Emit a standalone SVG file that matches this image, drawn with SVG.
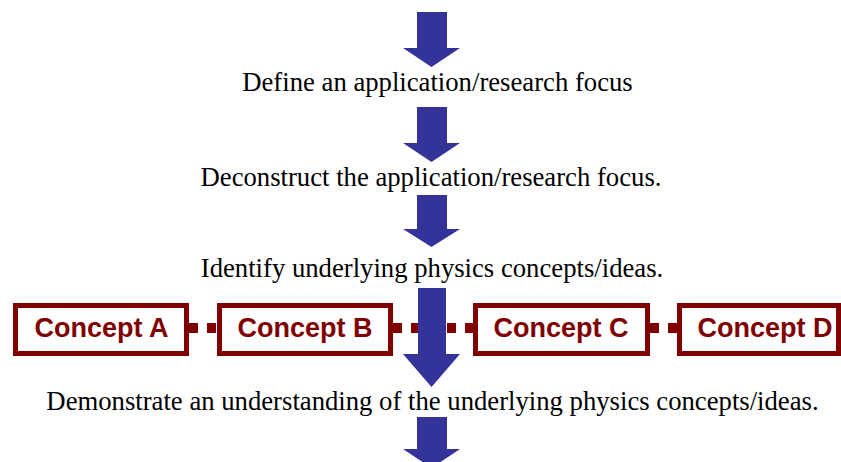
<svg xmlns="http://www.w3.org/2000/svg" width="841" height="462" viewBox="0 0 841 462">
<style>
.arrow{fill:#333399}
.lbl{font-family:"Liberation Serif","Times New Roman",serif;font-size:26.7px;fill:#000;text-anchor:middle}
.box{fill:#fff;stroke:#800000;stroke-width:5}
.ctext{font-family:"Liberation Sans",Arial,sans-serif;font-weight:bold;font-size:27px;fill:#800000;text-anchor:middle}
.conn{stroke:#800000;stroke-width:10;stroke-dasharray:9 9;fill:none}
</style>
<rect width="841" height="462" fill="#fff"/>
<g id="connectors">
<line class="conn" x1="189" y1="328" x2="217" y2="328"/>
<line class="conn" x1="393" y1="328" x2="473" y2="328"/>
<line class="conn" x1="650" y1="328" x2="677" y2="328"/>
</g>
<g id="conceptA"><rect class="box" x="15.5" y="305.5" width="171" height="48"/><text class="ctext" x="101.5" y="337">Concept A</text></g>
<g id="conceptB"><rect class="box" x="219.5" y="305.5" width="171" height="48"/><text class="ctext" x="305" y="337">Concept B</text></g>
<g id="conceptC"><rect class="box" x="475.5" y="305.5" width="172" height="48"/><text class="ctext" x="561" y="337">Concept C</text></g>
<g id="conceptD"><rect class="box" x="679.5" y="305.5" width="159" height="48"/><text class="ctext" x="765" y="337">Concept D</text></g>
<g id="arrows">
<polygon class="arrow" points="417,12 447,12 447,48 460,48 431.5,67 403,48 417,48"/>
<polygon class="arrow" points="417,107 447,107 447,143 460,143 431.5,162 403,143 417,143"/>
<polygon class="arrow" points="417,195 447,195 447,229 460,229 431.5,247 403,229 417,229"/>
<polygon class="arrow" points="418,288 446,288 446,354 460,354 431.5,387 403,354 418,354"/>
<polygon class="arrow" points="417,417 447,417 447,449 460,449 431.5,468 403,449 417,449"/>
</g>
<g id="step1"><text class="lbl" x="437.5" y="91">Define an application/research focus</text></g>
<g id="step2"><text class="lbl" x="431" y="186">Deconstruct the application/research focus.</text></g>
<g id="step3"><text class="lbl" x="432" y="277">Identify underlying physics concepts/ideas.</text></g>
<g id="step4"><text class="lbl" x="432.5" y="410">Demonstrate an understanding of the underlying physics concepts/ideas.</text></g>
</svg>
